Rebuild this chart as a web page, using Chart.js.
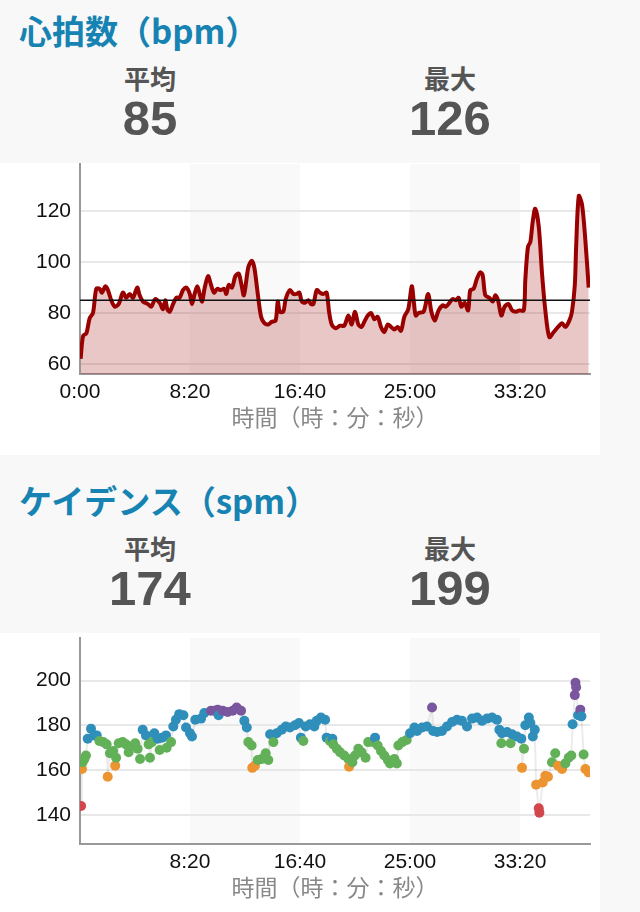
<!DOCTYPE html>
<html lang="ja">
<head>
<meta charset="utf-8">
<script src="https://cdn.jsdelivr.net/npm/chart.js@4.4.1/dist/chart.umd.min.js"></script>
<style>
  html, body { margin: 0; padding: 0; background: #f8f8f8; }
  body { width: 640px; height: 912px; overflow: hidden; position: relative; }
  .sec { position: relative; width: 640px; }
  .head { position: relative; height: 163px; }
  .title {
    position: absolute; left: 19px; top: 11px; margin: 0;
    font: bold 33px/38px "Noto Sans CJK JP", sans-serif; color: #1683b3;
  }
  .stat { position: absolute; width: 200px; text-align: center; color: #555; }
  .stat .lbl { position: absolute; top: 63px; width: 200px; font: bold 26px/30px "Noto Sans CJK JP", sans-serif; }
  .stat .num { position: absolute; top: 93px; width: 200px; font: bold 49px/50px "Liberation Sans", Arial, sans-serif; }
  .panel { position: relative; width: 600px; height: 292px; background: #fff; }
</style>
</head>
<body>
<div class="sec">
  <div class="head">
    <h2 class="title">心拍数（bpm）</h2>
    <div class="stat" style="left:50px"><div class="lbl">平均</div><div class="num" id="hr-avg"></div></div>
    <div class="stat" style="left:350px"><div class="lbl">最大</div><div class="num" id="hr-max"></div></div>
  </div>
  <div class="panel"><canvas id="hr-chart"></canvas></div>
</div>
<div class="sec" style="margin-top:15px">
  <div class="head">
    <h2 class="title">ケイデンス（spm）</h2>
    <div class="stat" style="left:50px"><div class="lbl">平均</div><div class="num" id="cad-avg"></div></div>
    <div class="stat" style="left:350px"><div class="lbl">最大</div><div class="num" id="cad-max"></div></div>
  </div>
  <div class="panel"><canvas id="cad-chart"></canvas></div>
</div>
<script>
// elapsed time in seconds
const xMax = 2318;
const hrXTicks = [0, 500, 1000, 1500, 2000];
const cadXTicks = [500, 1000, 1500, 2000];
const hrYTicks = [60, 80, 100, 120];
const cadYTicks = [140, 160, 180, 200];

const hrAvg = 85;
const hrMax = 126;
const cadAvg = 174;
const cadMax = 199;

const hrTime = [3, 14, 29, 44, 59, 74, 89, 100, 115, 127, 142, 158, 176, 195, 210, 226, 241, 260, 271, 286,
  309, 324, 342, 362, 377, 388, 397, 408, 423, 438, 453, 468, 483, 499, 509, 521, 533, 544, 555, 567,
  582, 594, 609, 624, 640, 655, 665, 676, 691, 706, 721, 733, 745, 765, 780, 792, 808, 823, 838, 856,
  871, 889, 899, 908, 924, 935, 954, 970, 985, 997, 1008, 1023, 1038, 1050, 1061, 1076, 1091, 1106, 1121, 1132,
  1144, 1162, 1182, 1201, 1220, 1235, 1250, 1265, 1280, 1292, 1308, 1323, 1338, 1353, 1368, 1383, 1399, 1414, 1429, 1444,
  1459, 1474, 1492, 1508, 1517, 1526, 1539, 1562, 1582, 1597, 1612, 1630, 1648, 1663, 1679, 1694, 1709, 1721, 1733, 1748,
  1764, 1774, 1789, 1804, 1819, 1830, 1842, 1860, 1876, 1888, 1900, 1915, 1930, 1948, 1964, 1982, 1997, 2017, 2024, 2036,
  2047, 2057, 2069, 2085, 2100, 2115, 2133, 2153, 2173, 2191, 2206, 2224, 2236, 2249, 2255, 2267, 2282, 2297, 2312];
const hrValue = [62, 71, 72, 78, 80, 89.5, 89.5, 88, 90.5, 89, 85, 82.5, 83.5, 88, 86, 87.5, 86, 90, 87, 84.5,
  83.5, 82.5, 85.5, 84, 81.5, 85, 81.5, 80.5, 83.5, 86, 86, 89, 90, 87.5, 83.5, 87.5, 90.5, 87.5, 84.5, 90,
  94.5, 91.5, 88, 89.5, 89, 89.5, 87.5, 91, 90, 94.5, 95.5, 91.5, 87, 98, 100.5, 98, 87.5, 78.5, 76, 75.5,
  76.5, 77, 84.5, 80.5, 80.5, 85.5, 89, 87.5, 87.5, 88, 84.5, 84, 85, 83.5, 83.5, 89, 88, 87.5, 88, 80.5,
  75.5, 74, 75, 75, 79, 75.5, 80.5, 75.5, 74.5, 76.5, 79, 80, 77.5, 78.5, 74.5, 72.5, 75.5, 74.5, 73.5, 74.5,
  73, 78.5, 81.5, 90.5, 84.5, 79, 80, 80.5, 87.5, 80.5, 77, 81, 83, 82.5, 84, 85.5, 85, 86, 82.5, 84,
  81, 89, 89.5, 93.5, 96, 95, 87, 86, 84.5, 87, 85, 79, 82.5, 83.5, 81, 80.5, 81, 81, 93, 106,
  108, 115.5, 121, 114, 95.5, 81, 70.5, 72.5, 74.5, 76, 74.5, 77, 80.5, 91, 106, 126, 122.5, 108.5, 90];

const cadTime = [5, 9, 12, 20, 27, 35, 50, 65, 76, 88, 106, 121, 126, 136, 151, 160, 164, 176, 194, 209,
  221, 232, 251, 262, 273, 285, 300, 312, 318, 327, 338, 353, 362, 373, 391, 394, 414, 424, 436, 451,
  470, 482, 500, 509, 524, 550, 565, 595, 610, 626, 630, 649, 671, 694, 712, 732, 747, 758, 765, 780,
  783, 795, 808, 826, 844, 856, 864, 879, 894, 917, 935, 954, 977, 995, 1004, 1015, 1026, 1045, 1065, 1076,
  1095, 1114, 1121, 1136, 1147, 1151, 1167, 1182, 1201, 1220, 1223, 1238, 1250, 1265, 1280, 1298, 1310, 1333, 1341, 1353,
  1368, 1383, 1399, 1409, 1429, 1440, 1447, 1465, 1485, 1500, 1520, 1532, 1555, 1577, 1600, 1605, 1623, 1645, 1668, 1691,
  1714, 1736, 1759, 1782, 1805, 1827, 1850, 1873, 1895, 1906, 1915, 1918, 1941, 1957, 1964, 1986, 2006, 2009, 2018, 2024,
  2040, 2047, 2058, 2067, 2073, 2085, 2088, 2103, 2115, 2127, 2145, 2160, 2173, 2191, 2206, 2221, 2233, 2239, 2249, 2252,
  2255, 2264, 2274, 2279, 2289, 2297, 2311];
const cadValue = [144, 160.5, 163.5, 165, 166.5, 174, 178.5, 175.5, 175.5, 173, 172.5, 171.5, 157, 167.5, 168.5, 162, 165.5, 172, 172.5, 171.5,
  168, 170.5, 172, 169.5, 165, 178, 175.5, 171.5, 165.5, 172.5, 176.5, 174, 169, 174.5, 175.5, 170, 172.5, 179.5, 182.5, 185,
  184.5, 179, 176.5, 175, 182.5, 183, 185.5, 186.5, 186.5, 187, 184.5, 186.5, 186, 186.5, 188, 186.5, 182, 179, 172.5, 171,
  161, 162, 164.5, 165, 167.5, 164.5, 176, 172.5, 176.5, 178, 179.5, 179, 180, 181, 174.5, 173, 179.5, 180.5, 179.5, 182,
  183.5, 182.5, 174.5, 173, 174, 171.5, 169.5, 168, 166.5, 165, 161.5, 163.5, 166.5, 169.5, 168, 165.5, 172.5, 172.5, 174.5, 171,
  168.5, 166.5, 164.5, 163, 165, 163, 171, 172.5, 173.5, 176.5, 179, 177.5, 179, 179.5, 188, 177.5, 177, 177.5, 179.5, 181.5,
  182.5, 182, 179.5, 183, 183.5, 182, 183, 183.5, 182.5, 178, 172, 176.5, 177, 172, 176, 175, 174, 161, 169.5, 180,
  183.5, 181, 175, 178, 153.5, 143, 141, 154.5, 157.5, 157, 163.5, 167.5, 162, 160.5, 163, 165.5, 166.5, 180.5, 193.5, 199,
  197, 184.5, 187, 184, 167, 160.5, 159];

// cadence zone colours (lower bound, colour)
const cadZones = [[0, '#d2474b'], [150, '#ec9431'], [162.8, '#62b159'], [173.8, '#2f8eba'], [185.8, '#79569d']];

document.getElementById('hr-avg').textContent = hrAvg;
document.getElementById('hr-max').textContent = hrMax;
document.getElementById('cad-avg').textContent = cadAvg;
document.getElementById('cad-max').textContent = cadMax;

Chart.defaults.font.family = "'Liberation Sans', Arial, sans-serif";
Chart.defaults.animation = false;

const fmtTime = (v) => `${Math.floor(v / 60)}:${String(v % 60).padStart(2, '0')}`;

// alternating background stripes every 8:20
const stripes = {
  id: 'stripes',
  beforeDraw(chart) {
    const { ctx, chartArea: a, scales: { x } } = chart;
    ctx.save();
    ctx.fillStyle = '#f9f9f9';
    for (let t = 500; t < xMax; t += 1000) {
      const l = x.getPixelForValue(t);
      const r = x.getPixelForValue(Math.min(t + 500, xMax));
      ctx.fillRect(l, a.top, r - l, a.bottom - a.top);
    }
    ctx.restore();
  }
};

function makeScales(xTicks, yTicks, yMin, yMax) {
  return {
    x: {
      type: 'linear', min: 0, max: xMax,
      afterBuildTicks: (s) => { s.ticks = xTicks.map((v) => ({ value: v })); },
      afterFit: (s) => { s.height = 81; s.paddingLeft = 0; s.paddingRight = 0; },
      grid: { display: false, drawTicks: false },
      border: { display: true, color: '#999', width: 2 },
      ticks: { callback: fmtTime, color: '#111', font: { size: 21 }, padding: 6, maxRotation: 0 },
      title: {
        display: true, text: '時間（時：分：秒）', color: '#888',
        font: { size: 23, family: "'Noto Sans CJK JP', sans-serif" }, padding: { top: 0, bottom: 24 }
      }
    },
    y: {
      min: yMin, max: yMax,
      afterBuildTicks: (s) => { s.ticks = yTicks.map((v) => ({ value: v })); },
      afterFit: (s) => { s.width = 80; s.paddingTop = 0; s.paddingBottom = 0; },
      grid: { color: '#e8e8e8', lineWidth: 2, drawTicks: false },
      border: { display: true, color: '#999', width: 2 },
      ticks: { color: '#111', font: { size: 21 }, padding: 9 }
    }
  };
}

const baseOptions = {
  responsive: true,
  maintainAspectRatio: false,
  layout: { padding: { top: 1, right: 10, bottom: 0, left: 0 } },
  plugins: { legend: { display: false }, tooltip: { enabled: false } }
};

new Chart(document.getElementById('hr-chart'), {
  type: 'line',
  data: {
    datasets: [
      {
        data: [{ x: 0, y: hrAvg }, { x: xMax, y: hrAvg }],
        borderColor: '#111', borderWidth: 1.5, pointRadius: 0, fill: false
      },
      {
        data: hrTime.map((t, i) => ({ x: t, y: hrValue[i] })),
        borderColor: '#990000', borderWidth: 4, tension: 0.3,
        backgroundColor: 'rgba(153, 0, 0, 0.22)', fill: 'start', pointRadius: 0
      }
    ]
  },
  options: { ...baseOptions, scales: makeScales(hrXTicks, hrYTicks, 56, 138.6) },
  plugins: [stripes]
});

const zoneColor = (v) => {
  let c = cadZones[0][1];
  cadZones.forEach(([lo, col]) => { if (v >= lo) c = col; });
  return c;
};

new Chart(document.getElementById('cad-chart'), {
  type: 'line',
  data: {
    datasets: [{
      data: cadTime.map((t, i) => ({ x: t, y: cadValue[i] })),
      borderColor: 'rgba(0, 0, 0, 0.08)', borderWidth: 2,
      pointRadius: 5, pointBorderWidth: 0,
      pointBackgroundColor: (c) => zoneColor(c.raw ? c.raw.y : 170)
    }]
  },
  options: { ...baseOptions, scales: makeScales(cadXTicks, cadYTicks, 127, 219) },
  plugins: [stripes]
});
</script>
</body>
</html>
